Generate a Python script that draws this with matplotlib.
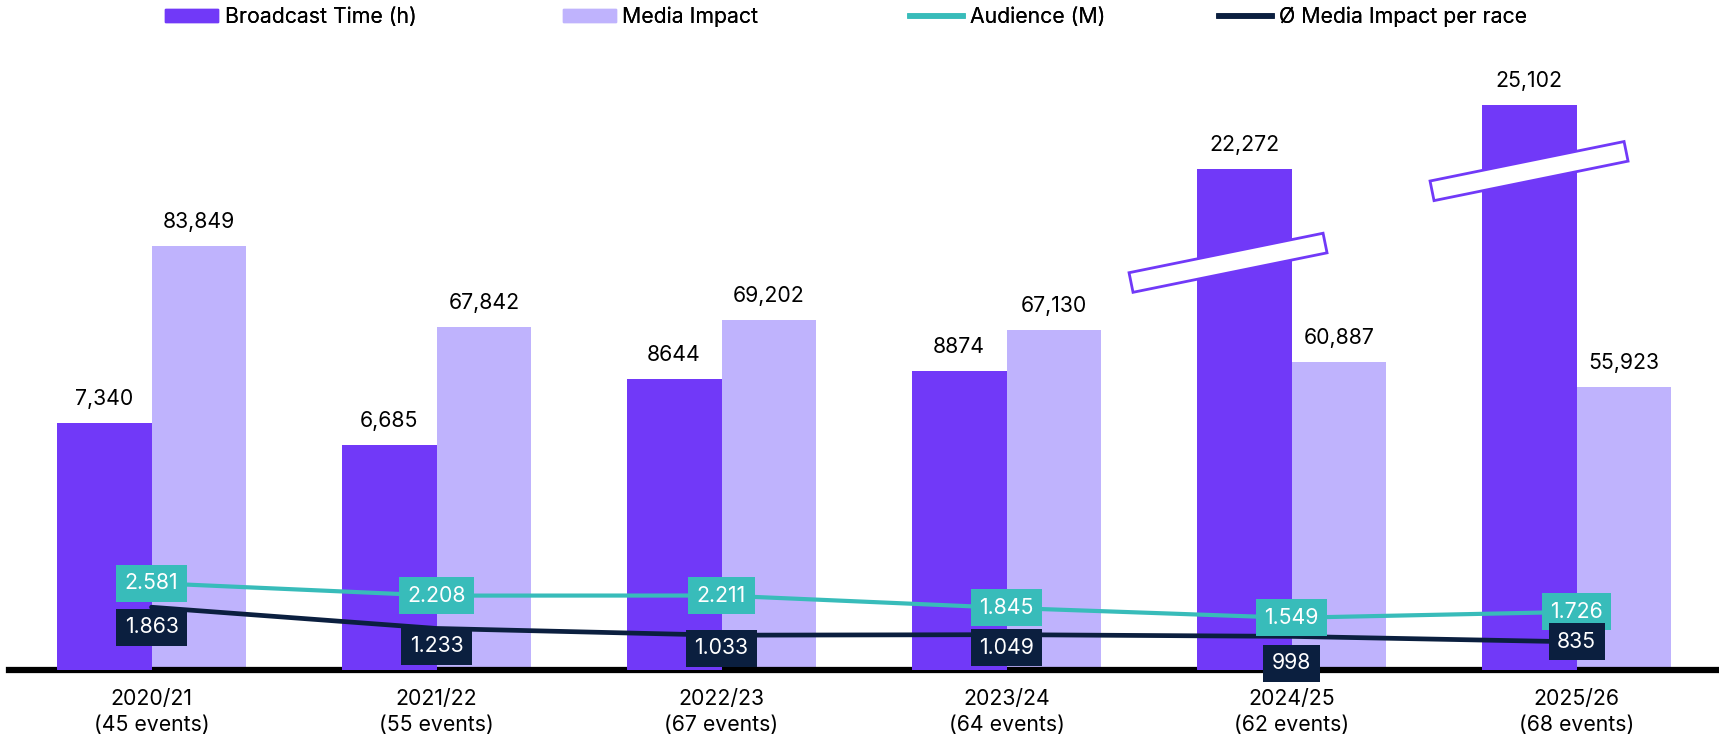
import numpy as np
import matplotlib
matplotlib.use("Agg")
import matplotlib.pyplot as plt
from matplotlib.patches import Rectangle, Patch
from matplotlib.lines import Line2D
from matplotlib.transforms import Affine2D

plt.rcParams['font.family'] = ['Inter', 'DejaVu Sans']

# ---------------- data ----------------
seasons = ["2020/21", "2021/22", "2022/23", "2023/24", "2024/25", "2025/26"]
events = [45, 55, 67, 64, 62, 68]
broadcast_time = [7340, 6685, 8644, 8874, 22272, 25102]
broadcast_labels = ["7,340", "6,685", "8644", "8874", "22,272", "25,102"]
media_impact = [83849, 67842, 69202, 67130, 60887, 55923]
media_labels = ["83,849", "67,842", "69,202", "67,130", "60,887", "55,923"]
audience = [2.581, 2.208, 2.211, 1.845, 1.549, 1.726]
audience_labels = ["2.581", "2.208", "2.211", "1.845", "1.549", "1.726"]
avg_impact = [1.863, 1.233, 1.033, 1.049, 0.998, 0.835]
avg_labels = ["1.863", "1.233", "1.033", "1.049", "998", "835"]

# ---------------- style ----------------
C_DARK = "#7139F8"
C_LIGHT = "#BFB3FD"
C_TEAL = "#38BCBA"
C_NAVY = "#0B1F3F"
FS = 15.3

BREAK_AT = 15000          # bars above this are drawn shortened (axis break)
BREAK_FACTOR = 0.668
avg_label_dy = [-20, -18, -13, -13, -27, 0]   # px offset of Ø labels
break_dx = {4: -16, 5: 0}                     # px offsets of break symbols
break_below_top = {4: 94, 5: 66}              # px below bar top

W, H = 1719, 736
fig = plt.figure(figsize=(W / 100, H / 100), dpi=100)
ax = fig.add_axes([9 / W, 66 / H, 1 - 9 / W, 630 / H])
ax2 = ax.twinx()
ax3 = ax.twinx()

x = np.arange(len(seasons))
bw = 0.333

bt = np.array(broadcast_time, dtype=float)
bt_shown = np.where(bt > BREAK_AT, bt * BREAK_FACTOR, bt)

ax.bar(x + bw / 2, media_impact, bw, color=C_LIGHT, zorder=2)
ax2.bar(x - bw / 2, bt_shown, bw, color=C_DARK, zorder=2)

ax.set_ylim(0, 124500)
ax2.set_ylim(0, 18700)
ax3.set_ylim(0, 18.7)
for a in (ax, ax2, ax3):
    a.set_xlim(-0.5, 5.5)
    a.set_yticks([])
    for s in a.spines.values():
        s.set_visible(False)
    a.patch.set_visible(False)

ax.axhline(0, color="black", lw=4.5, zorder=5, clip_on=False)

ax.set_xticks(x)
ax.set_xticklabels([f"{s}\n({e} events)" for s, e in zip(seasons, events)],
                   fontsize=FS, linespacing=1.35)
ax.tick_params(axis="x", length=0, pad=14)

# value labels on bars
for xi, v, lab in zip(x, media_impact, media_labels):
    ax.annotate(lab, (xi + bw / 2, v), xytext=(0, 14), textcoords="offset pixels",
                ha="center", va="bottom", fontsize=FS)
for xi, v, lab in zip(x, bt_shown, broadcast_labels):
    ax2.annotate(lab, (xi - bw / 2, v), xytext=(0, 14), textcoords="offset pixels",
                 ha="center", va="bottom", fontsize=FS)

# lines
ax3.plot(x, audience, color=C_TEAL, lw=3, zorder=3, solid_capstyle="round")
ax3.plot(x, avg_impact, color=C_NAVY, lw=3.4, zorder=3, solid_capstyle="round")
for xi, v, lab in zip(x, audience, audience_labels):
    ax3.annotate(lab, (xi, v), ha="center", va="center", fontsize=FS, color="white",
                 bbox=dict(boxstyle="square,pad=0.4", fc=C_TEAL, ec="none"), zorder=6)
for xi, v, lab, dy in zip(x, avg_impact, avg_labels, avg_label_dy):
    ax3.annotate(lab, (xi, v), xytext=(0, dy), textcoords="offset pixels",
                 ha="center", va="center", fontsize=FS, color="white",
                 bbox=dict(boxstyle="square,pad=0.4", fc=C_NAVY, ec="none"), zorder=7)

# break symbols
fig.canvas.draw()
for i in (4, 5):
    cx, top = ax2.transData.transform((x[i] - bw / 2, bt_shown[i]))
    cx += break_dx[i]
    cy = top - break_below_top[i]
    L, T = 198, 20
    rect = Rectangle((cx - L / 2, cy - T / 2), L, T, fc="white", ec=C_DARK, lw=2,
                     transform=Affine2D().rotate_deg_around(cx, cy, 11.5), zorder=10)
    fig.add_artist(rect)

# legend (one entry per position, as in the original layout)
handles = [Patch(color=C_DARK, label="Broadcast Time (h)"),
           Patch(color=C_LIGHT, label="Media Impact"),
           Line2D([], [], color=C_TEAL, lw=4, label="Audience (M)"),
           Line2D([], [], color=C_NAVY, lw=4, label="Ø Media Impact per race")]
legend_x = [165, 563, 910, 1219]
for h, lx in zip(handles, legend_x):
    leg = fig.legend(handles=[h], loc="center left", bbox_to_anchor=(lx / W, 1 - 17 / H),
                     frameon=False, fontsize=FS, handlelength=2.5, handleheight=0.58,
                     handletextpad=0.3, borderpad=0, borderaxespad=0)
    fig.add_artist(leg)

fig.savefig("out.png", dpi=100)
